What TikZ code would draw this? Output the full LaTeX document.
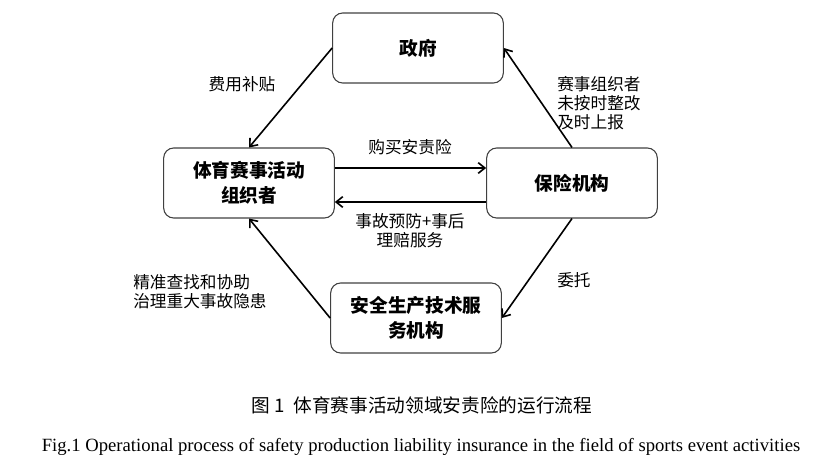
\documentclass[tikz,border=0pt]{standalone}
\usepackage{fontspec}
\setmainfont{Liberation Serif}
\newfontfamily\cjk{Noto Sans CJK SC}
\usepackage{tikz}
\usetikzlibrary{arrows.meta}
\definecolor{boxGrey}{rgb}{0.25,0.25,0.25}

\begin{document}
\begin{tikzpicture}[x=0.75pt, y=-0.75pt,
	box/.style={draw=boxGrey, line width=0.8pt, rounded corners=7.5pt, align=center,
		minimum width=128pt, minimum height=52.5pt, inner sep=2pt,
		font=\cjk\bfseries\fontsize{14pt}{18.75pt}\selectfont},
	lab/.style={align=left, inner sep=0pt, font=\cjk\fontsize{12.5pt}{14pt}\selectfont},
	flow/.style={line width=1.2pt, -{Straight Barb[length=5pt,width=8pt]}}]
	\useasboundingbox (0,0) rectangle (825,467);
	\node[box] (gov) at (418,48) {政府};
	\node[box] (org) at (249,183) {体育赛事活动\\组织者};
	\node[box] (ins) at (572,183) {保险机构};
	\node[box] (safe) at (416,318) {安全生产技术服\\务机构};
	\draw[flow] (gov.west) -- (org.north);
	\draw[flow] (ins.north) -- (gov.east);
	\draw[flow] ([yshift=11.25pt]org.east) -- ([yshift=11.25pt]ins.west);
	\draw[flow] ([yshift=-14.25pt]ins.west) -- ([yshift=-14.25pt]org.east);
	\draw[flow] (ins.south) -- (safe.east);
	\draw[flow] (safe.west) -- (org.south);
	\node[lab] (subsidy) at (242,84) {费用补贴};
	\node[lab, anchor=west] (report) at (557,103) {赛事组织者\\未按时整改\\及时上报};
	\node[lab] (buy) at (410,147) {购买安责险};
	\node[lab, align=center] (service) at (410,231) {事故预防+事后\\理赔服务};
	\node[lab, anchor=west] (entrust) at (557,280) {委托};
	\node[lab, anchor=west] (hazard) at (133,292) {精准查找和协助\\治理重大事故隐患};
	% captions
	\node[font=\cjk\fontsize{14pt}{16pt}\selectfont] (capcn) at (422,405) {图 1\ \ 体育赛事活动领域安责险的运行流程};
	\node[font=\fontsize{14pt}{16pt}\selectfont] (capen) at (421,447) {Fig.1 Operational process of safety production liability insurance in the field of sports event activities};
\end{tikzpicture}
\end{document}
